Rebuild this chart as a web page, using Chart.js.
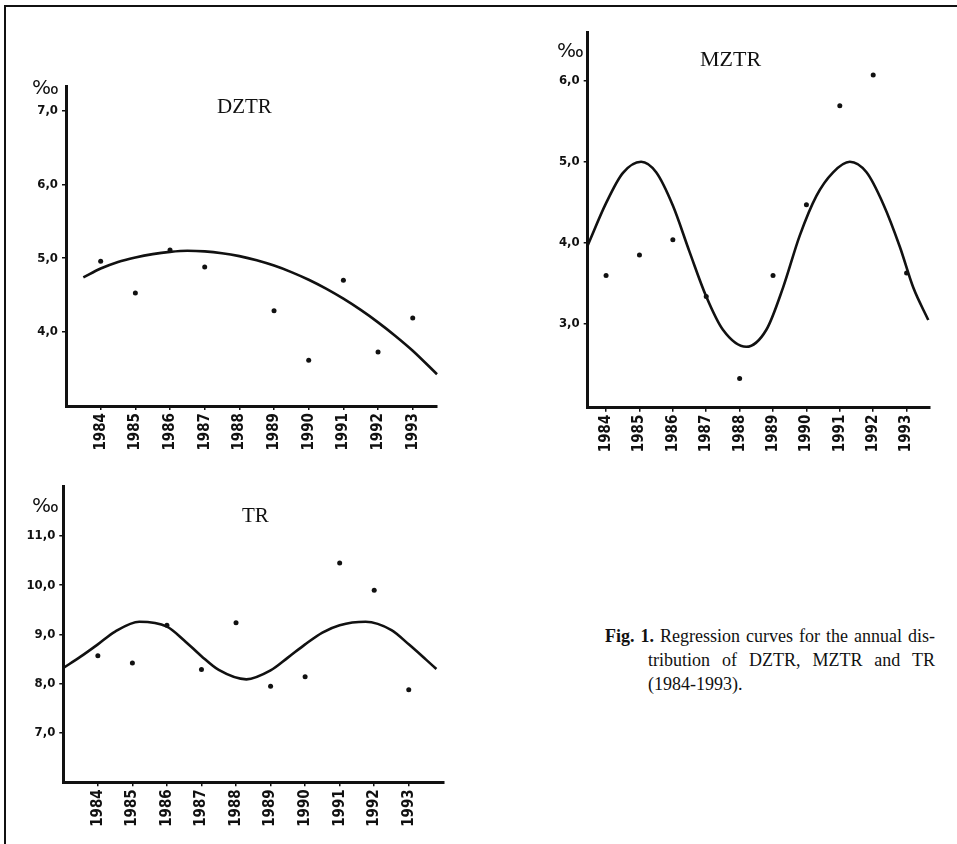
<!DOCTYPE html>
<html>
<head>
<meta charset="utf-8">
<script src="https://cdn.jsdelivr.net/npm/chart.js@4.4.1/dist/chart.umd.min.js"></script>
<style>
  html, body { margin: 0; padding: 0; background: #fff; }
  #page { position: relative; width: 957px; height: 844px; overflow: hidden; background: #fff; }
  #frame { position: absolute; left: 4px; top: 5px; right: -10px; bottom: -10px;
           border-left: 2px solid #111; border-top: 2px solid #111; }
  canvas { position: absolute; }
  .unit { position: absolute; font-family: "DejaVu Sans", sans-serif; font-size: 20px; line-height: 1; color: #111; }
  .name { position: absolute; font-family: "Liberation Serif", "Times New Roman", serif; line-height: 1; color: #111; }
  .cap { position: absolute; font-family: "Liberation Serif", "Times New Roman", serif; font-size: 18px;
         line-height: 24px; color: #111; white-space: nowrap; }
  .just { text-align: justify; text-align-last: justify; }
</style>
</head>
<body>
<div id="page">
  <div id="frame"></div>
  <canvas id="dztr" width="470" height="470" style="left:0;top:0"></canvas>
  <canvas id="mztr" width="437" height="470" style="left:520px;top:0"></canvas>
  <canvas id="tr" width="470" height="374" style="left:0;top:470px"></canvas>

  <div class="unit" style="left:32px;top:77px">‰</div>
  <div class="name" style="left:217px;top:96px;font-size:21px">DZTR</div>
  <div class="unit" style="left:557px;top:40px">‰</div>
  <div class="name" style="left:700px;top:48px;font-size:22px">MZTR</div>
  <div class="unit" style="left:32px;top:495px">‰</div>
  <div class="name" style="left:242px;top:505px;font-size:21px">TR</div>

  <div class="cap just" style="left:605px;top:624px;width:330px"><b>Fig. 1.</b> Regression curves for the annual dis-</div>
  <div class="cap just" style="left:648px;top:648px;width:287px">tribution of DZTR, MZTR and TR</div>
  <div class="cap" style="left:648px;top:672px">(1984-1993).</div>
</div>

<script>
/* ── data ── */
var years = [1984, 1985, 1986, 1987, 1988, 1989, 1990, 1991, 1992, 1993];

var dztrObs = [4.96, 4.53, 5.11, 4.88, null, 4.29, 3.62, 4.70, 3.73, 4.19];
var dztrFitX = [1983.5, 1984, 1984.5, 1985, 1985.5, 1986, 1986.5, 1987, 1987.5, 1988, 1988.5, 1989, 1989.5,
                1990, 1990.5, 1991, 1991.5, 1992, 1992.5, 1993, 1993.7];
var dztrFitY = [4.74, 4.86, 4.95, 5.01, 5.055, 5.085, 5.10, 5.092, 5.068, 5.028, 4.972, 4.90, 4.812,
                4.708, 4.588, 4.452, 4.30, 4.132, 3.948, 3.748, 3.43];
var dztrTicks = [4, 5, 6, 7];

var mztrObs = [3.60, 3.85, 4.04, 3.34, 2.33, 3.60, 4.47, 5.69, 6.07, 3.63];
var mztrFitX = [1983.45, 1984, 1984.5, 1985.05, 1985.5, 1986, 1986.5, 1987, 1987.5, 1988.2,
                1988.8, 1989.3, 1989.8, 1990.3, 1990.8, 1991.3, 1991.8, 1992.3, 1992.8, 1993.2, 1993.65];
var mztrFitY = [3.97, 4.49, 4.86, 5.00, 4.87, 4.46, 3.89, 3.34, 2.93, 2.72,
                2.93, 3.45, 4.09, 4.58, 4.87, 5.00, 4.87, 4.48, 3.95, 3.45, 3.05];
var mztrTicks = [3, 4, 5, 6];

var trObs = [8.57, 8.42, 9.19, 8.29, 9.24, 7.95, 8.14, 10.45, 9.90, 7.88];
var trFitX = [1983.0, 1983.5, 1984, 1984.5, 1985.2, 1986, 1986.5, 1987, 1987.5, 1988.3,
              1989, 1989.5, 1990, 1990.5, 1991, 1991.75, 1992.5, 1993, 1993.5, 1993.8];
var trFitY = [8.32, 8.55, 8.80, 9.06, 9.26, 9.16, 8.88, 8.56, 8.28, 8.09,
              8.27, 8.53, 8.80, 9.04, 9.19, 9.26, 9.09, 8.80, 8.49, 8.30];
var trTicks = [7, 8, 9, 10, 11];

var tickFamily = '"DejaVu Sans Condensed", "Liberation Sans Narrow", sans-serif';

function _pairs(xs, ys) {
  var out = [];
  for (var i = 0; i < xs.length; i++) if (ys[i] !== null) out.push({x: xs[i], y: ys[i]});
  return out;
}

/* ── one panel: regression curve + yearly points ── */
function makePanel(id, p) {
  return new Chart(document.getElementById(id), {
    type: 'scatter',
    data: {datasets: [
      {type: 'line', data: _pairs(p.fitX, p.fitY), borderColor: '#111', borderWidth: 2.6,
       pointRadius: 0, cubicInterpolationMode: 'monotone', fill: false, clip: false},
      {data: _pairs(years, p.obs), backgroundColor: '#111', borderWidth: 0, pointRadius: 2.5, clip: false}
    ]},
    options: {
      responsive: false, animation: false, events: [],
      layout: {padding: {top: p.top, right: p.right, left: 0, bottom: 0}},
      plugins: {legend: {display: false}, tooltip: {enabled: false}},
      scales: {
        x: {
          type: 'linear', min: p.xMin, max: p.xMax,
          afterBuildTicks: function(s) { s.ticks = years.map(function(v) { return {value: v}; }); },
          afterFit: function(s) { s.height = p.xH; },
          border: {color: '#111', width: 3},
          grid: {drawOnChartArea: false, color: '#111', tickLength: 4, lineWidth: 1.5},
          ticks: {color: '#111', autoSkip: false, minRotation: 90, maxRotation: 90, padding: 3,
                  font: {family: tickFamily, weight: 'bold', size: 15},
                  callback: function(v) { return String(v); }}
        },
        y: {
          min: p.yMin, max: p.yMax,
          afterBuildTicks: function(s) { s.ticks = p.ticks.map(function(v) { return {value: v}; }); },
          afterFit: function(s) { s.width = p.yW; },
          border: {color: '#111', width: 3},
          grid: {drawOnChartArea: false, color: '#111', tickLength: 4, lineWidth: 1.5},
          ticks: {color: '#111', padding: 4,
                  font: {family: tickFamily, weight: 'bold', size: 13},
                  callback: function(v) { return v.toFixed(1).replace('.', ','); }}
        }
      }
    }
  });
}

makePanel('dztr', {obs: dztrObs, fitX: dztrFitX, fitY: dztrFitY, ticks: dztrTicks,
  xMin: 1983.0, xMax: 1993.7, yMin: 3.0, yMax: 7.33, top: 86, right: 33, yW: 66, xH: 64});

makePanel('mztr', {obs: mztrObs, fitX: mztrFitX, fitY: mztrFitY, ticks: mztrTicks,
  xMin: 1983.45, xMax: 1993.68, yMin: 1.97, yMax: 6.59, top: 32.7, right: 27.7, yW: 67.7, xH: 62.3});

makePanel('tr', {obs: trObs, fitX: trFitX, fitY: trFitY, ticks: trTicks,
  xMin: 1983.0, xMax: 1994.0, yMin: 6.0, yMax: 12.0, top: 16.7, right: 26.7, yW: 63.3, xH: 61.7});
</script>
</body>
</html>
